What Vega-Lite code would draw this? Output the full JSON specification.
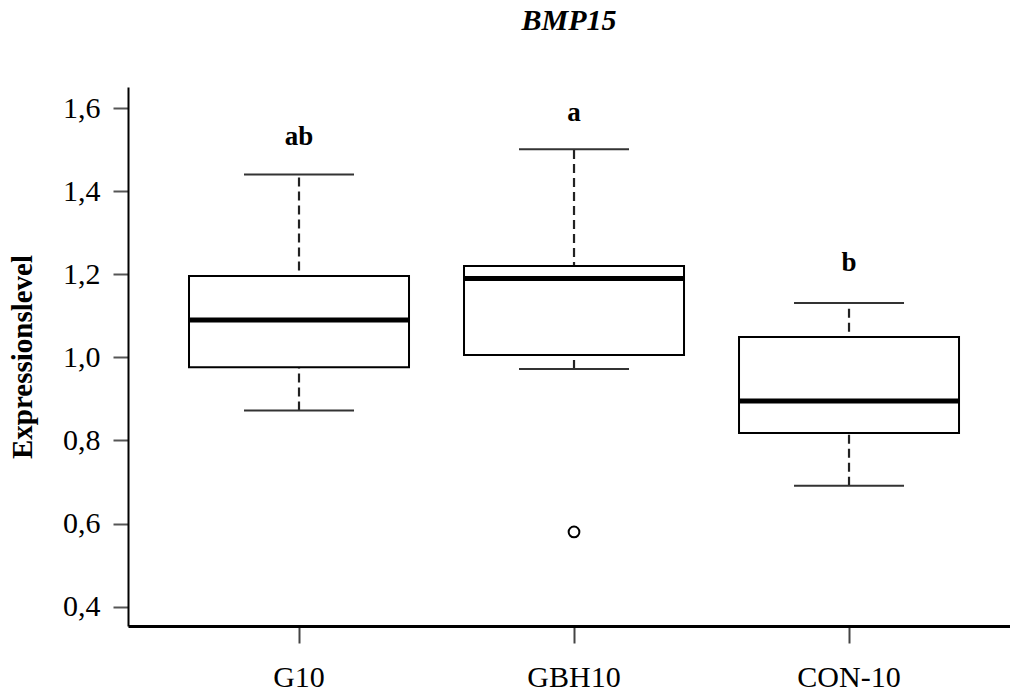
{
  "$schema": "https://vega.github.io/schema/vega-lite/v6.json",
  "autosize": {"type": "none"},
  "padding": {"left": 128, "top": 87, "right": 0, "bottom": 65},
  "width": 882,
  "height": 539,
  "background": "white",
  "config": {"view": {"stroke": null}, "font": "Liberation Serif"},
  "title": {"text": "BMP15", "font": "Liberation Serif", "fontSize": 30, "fontStyle": "italic", "fontWeight": "bold", "color": "black", "anchor": "middle", "baseline": "alphabetic", "offset": 27},
  "datasets": {
    "boxes": [
      {"group": "G10", "lower": 0.872, "q1": 0.976, "median": 1.09, "q3": 1.196, "upper": 1.44, "letter": "ab", "letterY": 1.531},
      {"group": "GBH10", "lower": 0.972, "q1": 1.006, "median": 1.19, "q3": 1.22, "upper": 1.501, "letter": "a", "letterY": 1.589},
      {"group": "CON-10", "lower": 0.691, "q1": 0.818, "median": 0.895, "q3": 1.049, "upper": 1.131, "letter": "b", "letterY": 1.228}
    ],
    "outliers": [
      {"group": "GBH10", "value": 0.58}
    ]
  },
  "layer": [
    {
      "data": {"name": "boxes"},
      "mark": {"type": "rule", "strokeDash": [9, 5], "strokeWidth": 2.2, "color": "#222222", "opacity": 1},
      "encoding": {
        "x": {"field": "group", "type": "nominal", "sort": ["G10", "GBH10", "CON-10"],
              "scale": {"type": "band", "paddingInner": 0, "paddingOuter": 0.1036, "align": 0.588},
              "axis": {"title": null, "labelAngle": 0, "domain": true, "domainColor": "black", "domainWidth": 3,
                       "ticks": true, "tickSize": 17, "tickWidth": 2, "tickColor": "#444444",
                       "labelFont": "Liberation Serif", "labelFontSize": 30, "labelColor": "black", "labelPadding": 19, "grid": false}},
        "y": {"field": "lower", "type": "quantitative",
              "scale": {"domain": [0.3535, 1.6507], "nice": false, "zero": false},
              "axis": {"title": "Expressionslevel", "titleFont": "Liberation Serif", "titleFontSize": 29, "titleFontWeight": "bold", "titleColor": "black", "titlePadding": 25,
                       "values": [0.4, 0.6, 0.8, 1.0, 1.2, 1.4, 1.6],
                       "labelExpr": "replace(format(datum.value, '.1f'), '.', ',')",
                       "labelFont": "Liberation Serif", "labelFontSize": 30, "labelColor": "black", "labelPadding": 13,
                       "domain": true, "domainColor": "black", "domainWidth": 2,
                       "tickSize": 15, "tickWidth": 2, "tickColor": "#555555", "grid": false}},
        "y2": {"field": "upper"}
      }
    },
    {
      "data": {"name": "boxes"},
      "mark": {"type": "tick", "size": 110, "thickness": 2, "color": "#333333", "opacity": 1},
      "encoding": {
        "x": {"field": "group", "type": "nominal", "sort": ["G10", "GBH10", "CON-10"]},
        "y": {"field": "lower", "type": "quantitative"}
      }
    },
    {
      "data": {"name": "boxes"},
      "mark": {"type": "tick", "size": 110, "thickness": 2, "color": "#333333", "opacity": 1},
      "encoding": {
        "x": {"field": "group", "type": "nominal", "sort": ["G10", "GBH10", "CON-10"]},
        "y": {"field": "upper", "type": "quantitative"}
      }
    },
    {
      "data": {"name": "boxes"},
      "mark": {"type": "bar", "fill": "white", "stroke": "black", "strokeWidth": 2, "opacity": 1, "width": {"band": 0.8}},
      "encoding": {
        "x": {"field": "group", "type": "nominal", "sort": ["G10", "GBH10", "CON-10"]},
        "y": {"field": "q1", "type": "quantitative"},
        "y2": {"field": "q3"}
      }
    },
    {
      "data": {"name": "boxes"},
      "mark": {"type": "tick", "size": 220, "thickness": 5, "color": "black", "opacity": 1},
      "encoding": {
        "x": {"field": "group", "type": "nominal", "sort": ["G10", "GBH10", "CON-10"]},
        "y": {"field": "median", "type": "quantitative"}
      }
    },
    {
      "data": {"name": "outliers"},
      "mark": {"type": "point", "shape": "circle", "size": 115, "filled": false, "stroke": "black", "strokeWidth": 2, "opacity": 1},
      "encoding": {
        "x": {"field": "group", "type": "nominal", "sort": ["G10", "GBH10", "CON-10"]},
        "y": {"field": "value", "type": "quantitative"}
      }
    },
    {
      "data": {"name": "boxes"},
      "mark": {"type": "text", "font": "Liberation Serif", "fontSize": 27, "fontWeight": "bold", "color": "black", "baseline": "middle", "align": "center"},
      "encoding": {
        "x": {"field": "group", "type": "nominal", "sort": ["G10", "GBH10", "CON-10"]},
        "y": {"field": "letterY", "type": "quantitative"},
        "text": {"field": "letter"}
      }
    },
    {
      "mark": {"type": "rule", "color": "#333333", "strokeWidth": 2, "opacity": 1},
      "encoding": {"y": {"datum": 1.6507}}
    }
  ]
}
